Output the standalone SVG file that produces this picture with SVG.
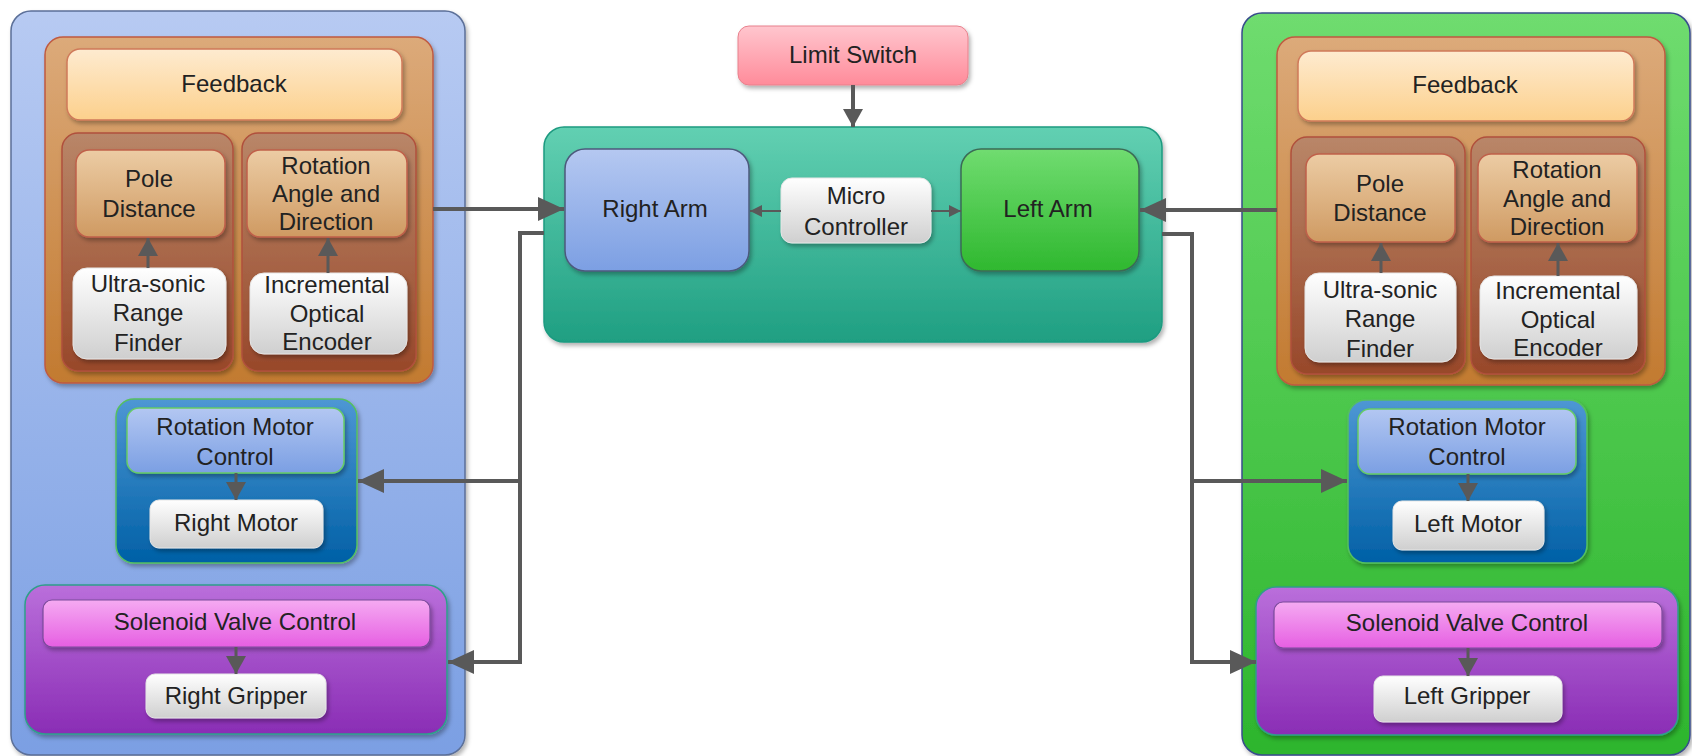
<svg xmlns="http://www.w3.org/2000/svg" width="1692" height="756" viewBox="0 0 1692 756">
<defs>
<style>
text{font-family:"Liberation Sans",Arial,sans-serif;font-size:24px;fill:#222;text-anchor:middle}
.conn{fill:none;stroke:#595959;stroke-width:4}
.thin{fill:none;stroke:#595959;stroke-width:3}
.tiny{fill:none;stroke:#595959;stroke-width:2}
.sh{filter:url(#shadow)}
</style>
<filter id="shadow" x="-10%" y="-10%" width="125%" height="130%">
<feDropShadow dx="2" dy="3" stdDeviation="2" flood-color="#000" flood-opacity="0.3"/>
</filter>
<linearGradient id="gBluePanel" x1="0" y1="0" x2="0" y2="1"><stop offset="0" stop-color="#b7caf2"/><stop offset="1" stop-color="#7b9fe3"/></linearGradient>
<linearGradient id="gGreenPanel" x1="0" y1="0" x2="0" y2="1"><stop offset="0" stop-color="#6fdc6f"/><stop offset="1" stop-color="#2db52d"/></linearGradient>
<linearGradient id="gTeal" x1="0" y1="0" x2="0" y2="1"><stop offset="0" stop-color="#62d0b2"/><stop offset="1" stop-color="#1f9f82"/></linearGradient>
<linearGradient id="gOrange" x1="0" y1="0" x2="0" y2="1"><stop offset="0" stop-color="#dcaa7a"/><stop offset="1" stop-color="#c27a30"/></linearGradient>
<linearGradient id="gFeed" x1="0" y1="0" x2="0" y2="1"><stop offset="0" stop-color="#feebd0"/><stop offset="1" stop-color="#fcd08c"/></linearGradient>
<linearGradient id="gSub" x1="0" y1="0" x2="0" y2="1"><stop offset="0" stop-color="#b98668"/><stop offset="1" stop-color="#98482a"/></linearGradient>
<linearGradient id="gPole" x1="0" y1="0" x2="0" y2="1"><stop offset="0" stop-color="#eccca4"/><stop offset="1" stop-color="#cf9a62"/></linearGradient>
<linearGradient id="gWhite" x1="0" y1="0" x2="0" y2="1"><stop offset="0" stop-color="#ffffff"/><stop offset="1" stop-color="#cfcfcf"/></linearGradient>
<linearGradient id="gMotorC" x1="0" y1="0" x2="0" y2="1"><stop offset="0" stop-color="#4e97d4"/><stop offset="1" stop-color="#0060a6"/></linearGradient>
<linearGradient id="gMotorH" x1="0" y1="0" x2="0" y2="1"><stop offset="0" stop-color="#b3c7f2"/><stop offset="1" stop-color="#7b9fe3"/></linearGradient>
<linearGradient id="gSol" x1="0" y1="0" x2="0" y2="1"><stop offset="0" stop-color="#ba6fdb"/><stop offset="1" stop-color="#8a2db5"/></linearGradient>
<linearGradient id="gSolH" x1="0" y1="0" x2="0" y2="1"><stop offset="0" stop-color="#f5aaf2"/><stop offset="1" stop-color="#e65fe2"/></linearGradient>
<linearGradient id="gRightArm" x1="0" y1="0" x2="0" y2="1"><stop offset="0" stop-color="#b5c8f1"/><stop offset="1" stop-color="#7c9fe3"/></linearGradient>
<linearGradient id="gLeftArm" x1="0" y1="0" x2="0" y2="1"><stop offset="0" stop-color="#70dc70"/><stop offset="1" stop-color="#2fb82f"/></linearGradient>
<linearGradient id="gLimit" x1="0" y1="0" x2="0" y2="1"><stop offset="0" stop-color="#ffc6ce"/><stop offset="1" stop-color="#ff8b9a"/></linearGradient>
<marker id="aBig" markerUnits="userSpaceOnUse" markerWidth="26" markerHeight="24" refX="26" refY="12" orient="auto"><path d="M0,0 L26,12 L0,24 z" fill="#595959"/></marker>
<marker id="aMed" markerUnits="userSpaceOnUse" markerWidth="18" markerHeight="20" refX="18" refY="10" orient="auto"><path d="M0,0 L18,10 L0,20 z" fill="#595959"/></marker>
<marker id="aSmall" markerUnits="userSpaceOnUse" markerWidth="12" markerHeight="12" refX="12" refY="6" orient="auto"><path d="M0,0 L12,6 L0,12 z" fill="#595959"/></marker>
</defs>

<rect width="1692" height="756" fill="#ffffff"/>

<!-- Left (right arm) panel -->
<g id="right-arm-panel">
<rect class="sh" x="11" y="11" width="454" height="744" rx="20" fill="url(#gBluePanel)" stroke="#5b6f98" stroke-width="1.5"/>
</g>
<g id="feedback-left-group">
<rect class="sh" x="45" y="37" width="388" height="346" rx="18" fill="url(#gOrange)" stroke="#c05a40" stroke-width="1.5"/>
</g>
<g id="feedback-left">
<rect class="sh" x="67" y="49" width="335" height="71" rx="13" fill="url(#gFeed)" stroke="#d07a5a" stroke-width="1.5"/>
<text x="234" y="92">Feedback</text>
</g>
<g id="pole-left-group">
<rect class="sh" x="62" y="133" width="171" height="238" rx="16" fill="url(#gSub)" stroke="#b0503c" stroke-width="1.5"/>
</g>
<g id="rot-left-group">
<rect class="sh" x="242" y="133" width="174" height="238" rx="16" fill="url(#gSub)" stroke="#b0503c" stroke-width="1.5"/>
</g>
<g id="pole-distance-left">
<rect class="sh" x="76" y="150" width="149" height="87" rx="13" fill="url(#gPole)" stroke="#c0604a" stroke-width="1.5"/>
<text x="149" y="187">Pole</text>
<text x="149" y="217">Distance</text>
</g>
<g id="rotation-angle-left">
<rect class="sh" x="247" y="150" width="160" height="87" rx="13" fill="url(#gPole)" stroke="#c0604a" stroke-width="1.5"/>
<text x="326" y="174">Rotation</text>
<text x="326" y="202">Angle and</text>
<text x="326" y="230">Direction</text>
</g>
<g id="ultrasonic-left">
<rect class="sh" x="73" y="268" width="153" height="91" rx="14" fill="url(#gWhite)" stroke="#e6e6e6" stroke-width="1"/>
<text x="148" y="292">Ultra-sonic</text>
<text x="148" y="321">Range</text>
<text x="148" y="351">Finder</text>
</g>
<g id="encoder-left">
<rect class="sh" x="250" y="273" width="157" height="81" rx="14" fill="url(#gWhite)" stroke="#e6e6e6" stroke-width="1"/>
<text x="327" y="293">Incremental</text>
<text x="327" y="322">Optical</text>
<text x="327" y="350">Encoder</text>
</g>
<g id="rotation-motor-left">
<rect class="sh" x="116" y="399" width="241" height="164" rx="18" fill="url(#gMotorC)" stroke="#55c060" stroke-width="1.5"/>
</g>
<g id="rotation-motor-control-left">
<rect class="sh" x="127" y="408" width="217" height="65" rx="12" fill="url(#gMotorH)" stroke="#66cc66" stroke-width="1.5"/>
<text x="235" y="435">Rotation Motor</text>
<text x="235" y="465">Control</text>
</g>
<g id="right-motor">
<rect class="sh" x="150" y="500" width="173" height="48" rx="9" fill="url(#gWhite)" stroke="#e6e6e6" stroke-width="1"/>
<text x="236" y="531">Right Motor</text>
</g>
<g id="solenoid-left">
<rect class="sh" x="25" y="585" width="422" height="149" rx="20" fill="url(#gSol)" stroke="#2f9f8a" stroke-width="1.5"/>
</g>
<g id="solenoid-control-left">
<rect class="sh" x="43" y="600" width="387" height="47" rx="9" fill="url(#gSolH)" stroke="#7a4a9a" stroke-width="1.2"/>
<text x="235" y="630">Solenoid Valve Control</text>
</g>
<g id="right-gripper">
<rect class="sh" x="146" y="674" width="180" height="44" rx="9" fill="url(#gWhite)" stroke="#e6e6e6" stroke-width="1"/>
<text x="236" y="704">Right Gripper</text>
</g>

<!-- Center -->
<g id="limit-switch">
<rect class="sh" x="738" y="26" width="230" height="59" rx="11" fill="url(#gLimit)" stroke="#e8808c" stroke-width="1"/>
<text x="853" y="63">Limit Switch</text>
</g>
<g id="controller-panel">
<rect class="sh" x="544" y="127" width="618" height="215" rx="20" fill="url(#gTeal)" stroke="#1e9a80" stroke-width="1.5"/>
</g>
<g id="right-arm">
<rect class="sh" x="565" y="149" width="184" height="122" rx="20" fill="url(#gRightArm)" stroke="#4c5a7c" stroke-width="1.5"/>
<text x="655" y="217">Right Arm</text>
</g>
<g id="micro-controller">
<rect class="sh" x="781" y="178" width="150" height="65" rx="11" fill="url(#gWhite)" stroke="#e6e6e6" stroke-width="1"/>
<text x="856" y="204">Micro</text>
<text x="856" y="235">Controller</text>
</g>
<g id="left-arm">
<rect class="sh" x="961" y="149" width="178" height="122" rx="20" fill="url(#gLeftArm)" stroke="#3b6b55" stroke-width="1.5"/>
<text x="1048" y="217">Left Arm</text>
</g>

<!-- Right (left arm) panel -->
<g id="left-arm-panel">
<rect class="sh" x="1242" y="13" width="448" height="742" rx="20" fill="url(#gGreenPanel)" stroke="#384c8c" stroke-width="1.5"/>
</g>
<g id="feedback-right-group">
<rect class="sh" x="1277" y="37" width="388" height="348" rx="18" fill="url(#gOrange)" stroke="#c05a40" stroke-width="1.5"/>
</g>
<g id="feedback-right">
<rect class="sh" x="1298" y="51" width="336" height="70" rx="13" fill="url(#gFeed)" stroke="#d07a5a" stroke-width="1.5"/>
<text x="1465" y="93">Feedback</text>
</g>
<g id="pole-right-group">
<rect class="sh" x="1291" y="137" width="174" height="237" rx="16" fill="url(#gSub)" stroke="#b0503c" stroke-width="1.5"/>
</g>
<g id="rot-right-group">
<rect class="sh" x="1471" y="137" width="174" height="237" rx="16" fill="url(#gSub)" stroke="#b0503c" stroke-width="1.5"/>
</g>
<g id="pole-distance-right">
<rect class="sh" x="1306" y="154" width="149" height="88" rx="13" fill="url(#gPole)" stroke="#c0604a" stroke-width="1.5"/>
<text x="1380" y="192">Pole</text>
<text x="1380" y="221">Distance</text>
</g>
<g id="rotation-angle-right">
<rect class="sh" x="1478" y="154" width="159" height="88" rx="13" fill="url(#gPole)" stroke="#c0604a" stroke-width="1.5"/>
<text x="1557" y="178">Rotation</text>
<text x="1557" y="207">Angle and</text>
<text x="1557" y="235">Direction</text>
</g>
<g id="ultrasonic-right">
<rect class="sh" x="1305" y="273" width="151" height="89" rx="14" fill="url(#gWhite)" stroke="#e6e6e6" stroke-width="1"/>
<text x="1380" y="298">Ultra-sonic</text>
<text x="1380" y="327">Range</text>
<text x="1380" y="357">Finder</text>
</g>
<g id="encoder-right">
<rect class="sh" x="1480" y="276" width="157" height="83" rx="14" fill="url(#gWhite)" stroke="#e6e6e6" stroke-width="1"/>
<text x="1558" y="299">Incremental</text>
<text x="1558" y="328">Optical</text>
<text x="1558" y="356">Encoder</text>
</g>
<g id="rotation-motor-right">
<rect class="sh" x="1348" y="400" width="239" height="163" rx="18" fill="url(#gMotorC)" stroke="#55c060" stroke-width="1.5"/>
</g>
<g id="rotation-motor-control-right">
<rect class="sh" x="1358" y="409" width="218" height="65" rx="12" fill="url(#gMotorH)" stroke="#66cc66" stroke-width="1.5"/>
<text x="1467" y="435">Rotation Motor</text>
<text x="1467" y="465">Control</text>
</g>
<g id="left-motor">
<rect class="sh" x="1393" y="501" width="151" height="49" rx="9" fill="url(#gWhite)" stroke="#e6e6e6" stroke-width="1"/>
<text x="1468" y="532">Left Motor</text>
</g>
<g id="solenoid-right">
<rect class="sh" x="1256" y="587" width="422" height="148" rx="20" fill="url(#gSol)" stroke="#2f9f8a" stroke-width="1.5"/>
</g>
<g id="solenoid-control-right">
<rect class="sh" x="1274" y="602" width="388" height="46" rx="9" fill="url(#gSolH)" stroke="#7a4a9a" stroke-width="1.2"/>
<text x="1467" y="631">Solenoid Valve Control</text>
</g>
<g id="left-gripper">
<rect class="sh" x="1374" y="676" width="188" height="46" rx="9" fill="url(#gWhite)" stroke="#e6e6e6" stroke-width="1"/>
<text x="1467" y="704">Left Gripper</text>
</g>

<!-- Connectors -->
<g id="connectors">
<path class="conn" d="M433,209 L564,209" marker-end="url(#aBig)"/>
<path class="conn" d="M544,233 L520,233 L520,662 L448,662" marker-end="url(#aBig)"/>
<path class="conn" d="M520,481 L358,481" marker-end="url(#aBig)"/>
<path class="conn" d="M1277,210 L1140,210" marker-end="url(#aBig)"/>
<path class="conn" d="M1162,234 L1192,234 L1192,662 L1256,662" marker-end="url(#aBig)"/>
<path class="conn" d="M1192,481 L1347,481" marker-end="url(#aBig)"/>
<path class="conn" d="M853,85 L853,127" marker-end="url(#aMed)"/>
<path class="tiny" d="M781,211 L750,211" marker-end="url(#aSmall)"/>
<path class="tiny" d="M931,211 L961,211" marker-end="url(#aSmall)"/>
<path class="thin" d="M148,268 L148,238" marker-end="url(#aMed)"/>
<path class="thin" d="M328,273 L328,238" marker-end="url(#aMed)"/>
<path class="thin" d="M1381,273 L1381,243" marker-end="url(#aMed)"/>
<path class="thin" d="M1558,276 L1558,243" marker-end="url(#aMed)"/>
<path class="thin" d="M236,473 L236,500" marker-end="url(#aMed)"/>
<path class="thin" d="M1468,474 L1468,501" marker-end="url(#aMed)"/>
<path class="thin" d="M236,647 L236,674" marker-end="url(#aMed)"/>
<path class="thin" d="M1468,648 L1468,676" marker-end="url(#aMed)"/>
</g>
</svg>
